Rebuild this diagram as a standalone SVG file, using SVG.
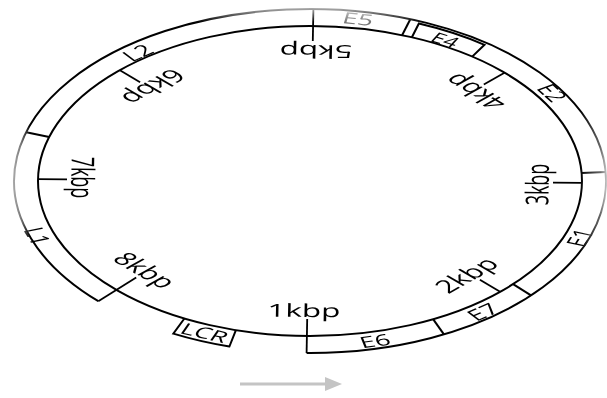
<svg xmlns="http://www.w3.org/2000/svg" width="607" height="398" viewBox="0 0 607 398">
<defs>
<style>
.ln{fill:none;stroke:#000;stroke-width:2}
.tk{fill:none;stroke:#000;stroke-width:1.8}
.kb{font-family:"Open Sans","Noto Sans","Liberation Sans",sans-serif;font-size:18px;fill:#000;text-anchor:middle}
.ft{font-family:"Open Sans","Noto Sans","Liberation Sans",sans-serif;font-size:15.5px;fill:#000;text-anchor:middle}
</style>
<linearGradient id="gTop" gradientUnits="userSpaceOnUse" x1="0" y1="0" x2="0" y2="22">
<stop offset="0" stop-color="#000"/><stop offset="0.45" stop-color="#666"/><stop offset="1" stop-color="#fff"/>
</linearGradient>
<linearGradient id="gLeft" gradientUnits="userSpaceOnUse" x1="0" y1="0" x2="30" y2="0">
<stop offset="0" stop-color="#000"/><stop offset="0.7" stop-color="#888"/><stop offset="1" stop-color="#fff"/>
</linearGradient>
<linearGradient id="gRight" gradientUnits="userSpaceOnUse" x1="580" y1="0" x2="607" y2="0">
<stop offset="0" stop-color="#fff"/><stop offset="0.75" stop-color="#999"/><stop offset="1" stop-color="#333"/>
</linearGradient>
<mask id="fade" maskUnits="userSpaceOnUse" x="0" y="0" width="607" height="398">
<rect x="0" y="0" width="607" height="398" fill="#fff"/>
<rect x="0" y="0" width="607" height="22" fill="url(#gTop)"/>
<rect x="0" y="0" width="30" height="398" fill="url(#gLeft)"/>
<rect x="580" y="0" width="27" height="398" fill="url(#gRight)"/>
</mask>
</defs>
<rect width="607" height="398" fill="#fff"/>
<g mask="url(#fade)">
<g id="connectors">
<ellipse class="ln" cx="310" cy="181" rx="272" ry="155"/>
<path class="ln" d="M98.3 301.2 A296 172 0 1 1 306.6 353"/>
</g>
<g id="ticks">
<line class="tk" x1="306.6" y1="353" x2="307.2" y2="319"/>
<line class="tk" x1="500.1" y1="291.8" x2="479.9" y2="279.7"/>
<line class="tk" x1="582" y1="182.8" x2="553" y2="182.6"/>
<line class="tk" x1="504.5" y1="72.7" x2="483.8" y2="84.5"/>
<line class="tk" x1="313.4" y1="9" x2="312.8" y2="41"/>
<line class="tk" x1="119.9" y1="70.2" x2="140.1" y2="82.3"/>
<line class="tk" x1="38" y1="179.2" x2="67" y2="179.4"/>
<line class="tk" x1="98.3" y1="301.2" x2="136.2" y2="277.5"/>
<text class="kb" transform="translate(307.3,317) scale(1.755,1) rotate(0.65)" x="-2">1kbp</text>
<text class="kb" transform="translate(476.9,278.3) scale(1.755,1) rotate(-44.35)" x="-2">2kbp</text>
<text class="kb" transform="translate(548.7,182.5) scale(1.755,1) rotate(-89.35)" x="-2">3kbp</text>
<text class="kb" transform="translate(480.7,85.9) scale(1.755,1) rotate(-134.35)" x="-2">4kbp</text>
<text class="kb" transform="translate(312.7,45) scale(1.755,1) rotate(-179.35)" x="-2">5kbp</text>
<text class="kb" transform="translate(143.1,83.7) scale(1.755,1) rotate(135.65)" x="-2">6kbp</text>
<text class="kb" transform="translate(71.3,179.5) scale(1.755,1) rotate(90.65)" x="-2">7kbp</text>
<text class="kb" transform="translate(139.3,276.1) scale(1.755,1) rotate(45.65)" x="-2">8kbp</text>
</g>
<g id="L1">
<line class="ln" x1="26.2" y1="132.2" x2="49.2" y2="137"/>
<text class="ft" transform="translate(37,236) scale(1.755,1) rotate(70.5)" y="5.5">L1</text>
</g>
<g id="L2">
<text class="ft" transform="translate(138,53) scale(1.755,1) rotate(-37.4)" y="5.5">L2</text>
</g>
<g id="E5">
<line class="ln" x1="410.3" y1="19.2" x2="402.1" y2="35.2"/>
<text class="ft" transform="translate(358,19) scale(1.755,1) rotate(9.5)" y="5.5" style="fill:#777">E5</text>
</g>
<g id="E4">
<path class="ln" d="M411.9 37.3 L418.9 23.5 A293 169 0 0 1 484.5 44.8 L472.2 56.6"/>
<text class="ft" transform="translate(445,40) scale(1.755,1) rotate(28)" y="5" style="font-size:14px">E4</text>
</g>
<g id="E2">
<line class="ln" x1="605.6" y1="172" x2="581.6" y2="172.9"/>
<text class="ft" transform="translate(552,93) scale(1.755,1) rotate(57.5)" y="5.5">E2</text>
</g>
<g id="E1">
<line class="ln" x1="531" y1="295.4" x2="513.1" y2="284.1"/>
<text class="ft" transform="translate(580,238) scale(1.755,1) rotate(-69.7)" y="5.5">E1</text>
</g>
<g id="E7">
<line class="ln" x1="443.9" y1="334.4" x2="433.1" y2="319.2"/>
<text class="ft" transform="translate(483,312) scale(1.755,1) rotate(-37)" y="5.5">E7</text>
</g>
<g id="E6">
<text class="ft" transform="translate(375,341) scale(1.755,1) rotate(-13)" y="5.5">E6</text>
</g>
<g id="LCR">
<path class="ln" d="M184.4 318.5 L173.3 333.6 A296 172 0 0 0 229.4 346.5 L235.9 330.1"/>
<text class="ft" transform="translate(204.5,333) scale(1.755,1) rotate(21.6)" y="5.5">LCR</text>
</g>
</g>
<g id="direction-arrow">
<line x1="240" y1="384" x2="328" y2="384" stroke="#c4c4c4" stroke-width="3"/>
<polygon points="325,377 342,384 325,391" fill="#c4c4c4"/>
</g>
</svg>
